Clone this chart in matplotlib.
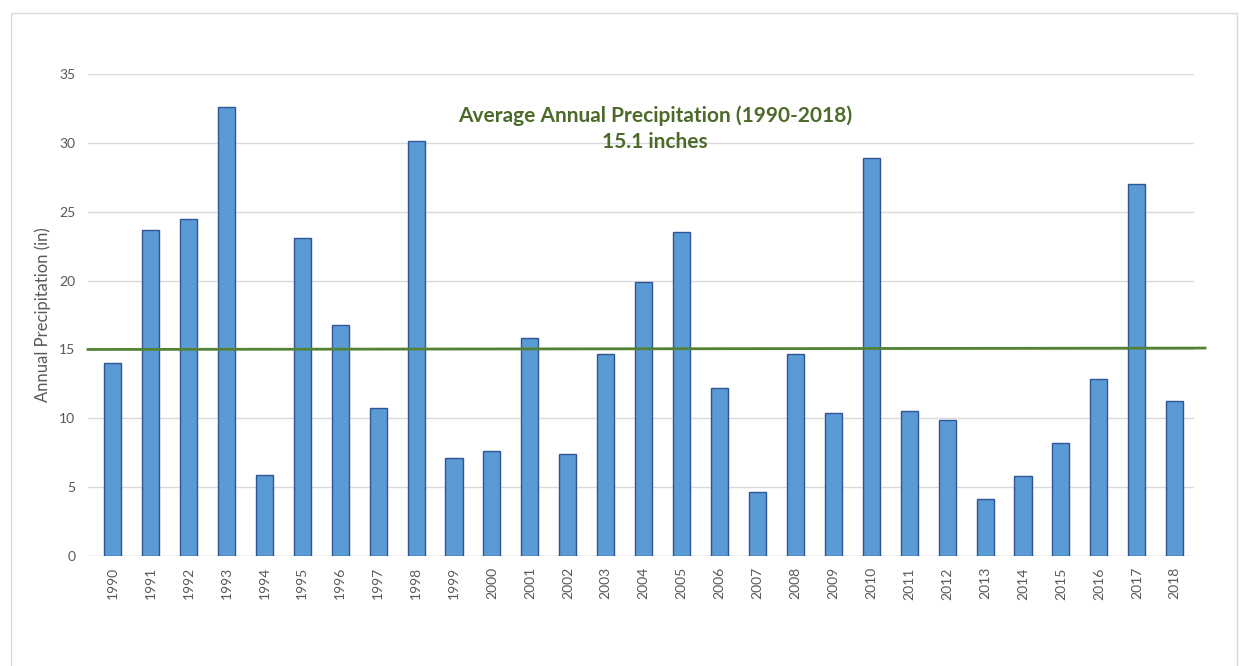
import matplotlib
matplotlib.use('Agg')
import matplotlib.pyplot as plt
from matplotlib.patches import Rectangle

plt.rcParams['font.family'] = ['Lato', 'DejaVu Sans']

# Annual precipitation
Years = [str(y) for y in range(1990, 2019)]
Precip = [14.0, 23.7, 24.5, 32.6, 5.9, 23.1, 16.8, 10.75, 30.1, 7.1,
          7.6, 15.8, 7.4, 14.7, 19.9, 23.5, 12.2, 4.65, 14.7, 10.4,
          28.9, 10.5, 9.9, 4.15, 5.85, 8.2, 12.85, 27.0, 11.25]
AvgLine = [15.0, 15.1]
YTicks = [0, 5, 10, 15, 20, 25, 30, 35]

fig = plt.figure(figsize=(12.48, 6.66), dpi=100)
fig.patches.append(Rectangle((0.009, -0.01), 0.982, 0.99, transform=fig.transFigure,
                             fill=False, edgecolor='#D9D9D9', linewidth=1))
ax = fig.add_axes([0.0705, 0.165, 0.886, 0.724])

x = list(range(len(Years)))
ax.bar(x, Precip, width=0.45, color='#5B9BD5', edgecolor='#2F5597', linewidth=1, zorder=2)

ax.plot([-0.65, len(Years) - 0.2], AvgLine, color='#548235', linewidth=2,
        clip_on=False, zorder=3)

ax.set_xlim(-0.65, len(Years) - 0.5)
ax.set_ylim(0, 35)
ax.set_yticks(YTicks)
ax.set_xticks(x)
ax.set_xticklabels(Years, rotation=90)
ax.tick_params(axis='both', length=0, labelsize=10, colors='#595959')
ax.tick_params(axis='x', pad=8)
ax.tick_params(axis='y', pad=9)
ax.yaxis.grid(True, color='#D9D9D9', linewidth=1, zorder=0)
ax.set_axisbelow(True)
for s in ax.spines.values():
    s.set_visible(False)
ax.axhline(0, color='#D9D9D9', linewidth=1, zorder=1)

ax.set_ylabel('Annual Precipitation (in)', fontsize=12, color='#595959', labelpad=6)

ax.text(0.5 * (len(Years) - 1) + 0.3, 31.95, 'Average Annual Precipitation (1990-2018)',
        ha='center', va='center', fontsize=15, fontweight='bold', color='#4C6B2A')
ax.text(0.5 * (len(Years) - 1) + 0.3, 30.05, '15.1 inches',
        ha='center', va='center', fontsize=15, fontweight='bold', color='#4C6B2A')

fig.savefig('out.png', dpi=100, facecolor='white')
